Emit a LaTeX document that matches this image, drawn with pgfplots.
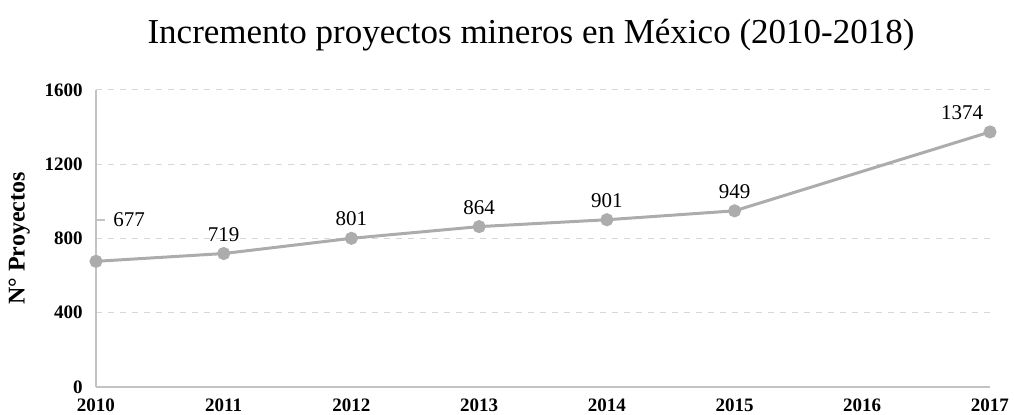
\documentclass[border=0pt]{standalone}
\usepackage{pgfplots}
\pgfplotsset{compat=1.18}
\usepackage{fontspec}
\setmainfont{Liberation Serif}
\definecolor{linegray}{RGB}{172,172,172}
\definecolor{gridgray}{RGB}{215,215,215}
\definecolor{axisgray}{RGB}{195,195,195}
\begin{document}
\begin{tikzpicture}
\begin{axis}[
  scale only axis,
  width=447pt, height=148.5pt,
  xmin=2010, xmax=2017, ymin=0, ymax=1600,
  xtick={2010,...,2017},
  ytick={0,400,800,1200,1600},
  /pgf/number format/assume math mode=true,
  xticklabel style={/pgf/number format/1000 sep={}, font=\fontsize{9.5}{11}\selectfont\bfseries, inner sep=0.5pt, yshift=-5pt},
  yticklabel style={/pgf/number format/1000 sep={}, font=\fontsize{9.5}{11}\selectfont\bfseries, inner sep=0.5pt, xshift=-6pt},
  axis x line*=bottom, axis y line*=left,
  axis line style={axisgray, line width=0.8pt},
  major tick length=0pt,
  ymajorgrids,
  grid style={gridgray, dashed, line width=0.5pt},
  ylabel={\textbf{N° Proyectos}},
  ylabel style={font=\fontsize{12}{13}\selectfont, at={(axis description cs:-0.086,0.5)}, anchor=center},
  clip=false,
]
\addplot[color=linegray, line width=1.5pt, mark=*, mark size=2.5pt, mark options={fill=linegray, draw=linegray},
  nodes near coords, point meta=explicit symbolic,
  visualization depends on={value \thisrow{dx} \as \dx},
  every node near coord/.append style={font=\fontsize{10.5}{12}\selectfont, text=black, anchor=south, yshift=2pt, xshift=\dx pt}]
table[meta=lab] {
x y lab dx
2010 677 {} 0
2011 719 719 0
2012 801 801 0
2013 864 864 0
2014 901 901 0
2015 949 949 0
2017 1374 1374 -14
};
\draw[axisgray, line width=0.6pt] (axis cs:2010,700) -- (axis cs:2010,900) -- (axis cs:2010.07,900);
\node[font=\fontsize{10.5}{12}\selectfont, anchor=west] at (axis cs:2010.08,900) {677};
\end{axis}
\node[font=\fontsize{17.5}{20}\selectfont] at ([yshift=27.5pt,xshift=-6pt]current axis.north) {Incremento proyectos mineros en México (2010-2018)};
\pgfresetboundingbox
\path ([shift={(-48pt,-14pt)}]current axis.south west) rectangle ([shift={(12pt,45pt)}]current axis.north east);
\end{tikzpicture}
\end{document}
